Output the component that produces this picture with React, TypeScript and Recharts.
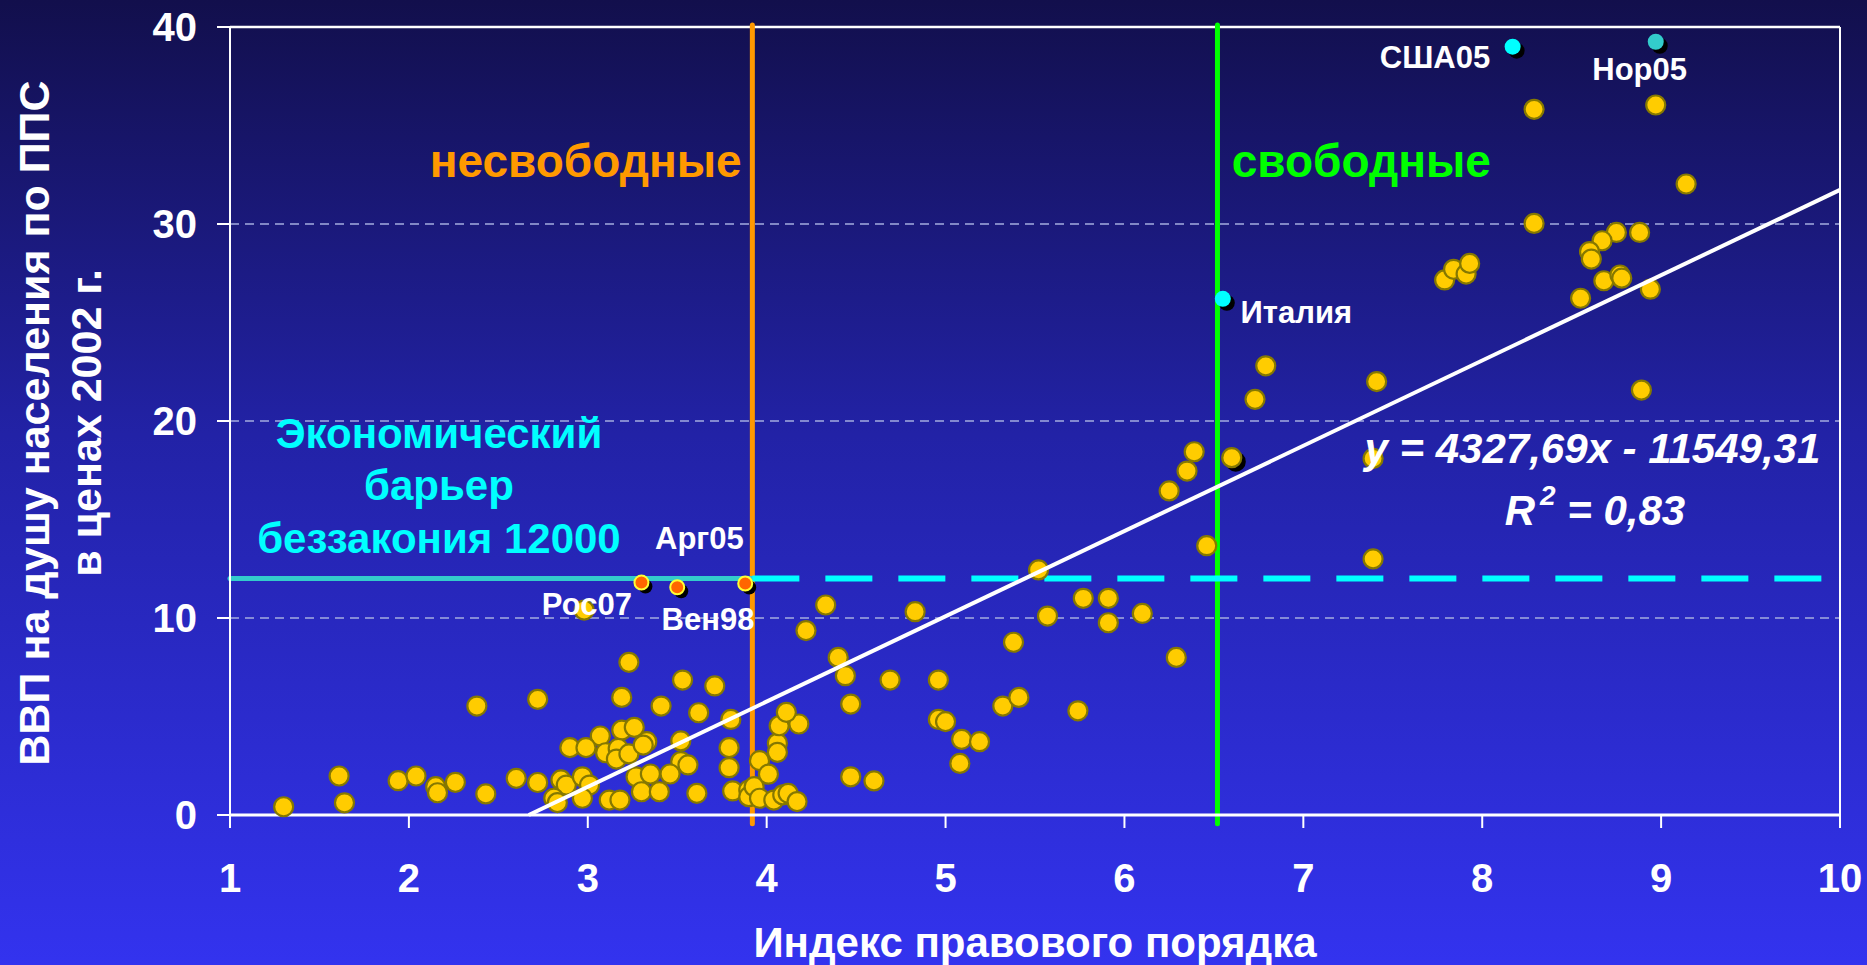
import React from 'react';
import {
  ScatterChart, Scatter, XAxis, YAxis, CartesianGrid,
  ReferenceLine, ReferenceDot
} from 'recharts';

// rule-of-law index (x) vs GDP per capita PPP, thousand $ 2002 (y)
const xTicks = [1, 2, 3, 4, 5, 6, 7, 8, 9, 10];
const yTicks = [0, 10, 20, 30, 40];

const countries = [
  { x: 1.30, y: 0.42 }, { x: 1.61, y: 1.98 }, { x: 1.64, y: 0.62 }, { x: 1.94, y: 1.74 },
  { x: 2.04, y: 1.98 }, { x: 2.15, y: 1.44 }, { x: 2.16, y: 1.13 }, { x: 2.26, y: 1.66 },
  { x: 2.38, y: 5.53 }, { x: 2.43, y: 1.07 }, { x: 2.60, y: 1.86 }, { x: 2.72, y: 5.87 },
  { x: 2.72, y: 1.65 }, { x: 2.85, y: 1.78 }, { x: 2.88, y: 1.52 }, { x: 2.97, y: 1.94 },
  { x: 3.01, y: 1.52 }, { x: 2.81, y: 0.85 }, { x: 2.83, y: 0.63 }, { x: 2.97, y: 0.85 },
  { x: 3.12, y: 0.76 }, { x: 3.18, y: 0.76 }, { x: 2.98, y: 10.4 }, { x: 3.23, y: 7.75 },
  { x: 3.19, y: 5.97 }, { x: 3.53, y: 6.85 }, { x: 3.71, y: 6.55 }, { x: 3.41, y: 5.53 },
  { x: 3.62, y: 5.19 }, { x: 3.80, y: 4.85 }, { x: 3.19, y: 4.31 }, { x: 3.26, y: 4.45 },
  { x: 3.07, y: 4.01 }, { x: 2.90, y: 3.42 }, { x: 2.99, y: 3.42 }, { x: 3.10, y: 3.16 },
  { x: 3.17, y: 3.38 }, { x: 3.16, y: 2.84 }, { x: 3.23, y: 3.10 }, { x: 3.33, y: 3.72 },
  { x: 3.31, y: 3.55 }, { x: 3.52, y: 3.76 }, { x: 3.52, y: 2.71 }, { x: 3.56, y: 2.54 },
  { x: 3.79, y: 3.42 }, { x: 3.79, y: 2.40 }, { x: 3.96, y: 2.76 }, { x: 3.27, y: 1.94 },
  { x: 3.35, y: 2.08 }, { x: 3.30, y: 1.18 }, { x: 3.40, y: 1.18 }, { x: 3.46, y: 2.08 },
  { x: 3.61, y: 1.10 }, { x: 3.81, y: 1.22 }, { x: 3.90, y: 1.27 }, { x: 3.90, y: 0.93 },
  { x: 3.93, y: 1.44 }, { x: 3.96, y: 0.85 }, { x: 4.04, y: 0.76 }, { x: 4.09, y: 1.02 },
  { x: 4.12, y: 1.10 }, { x: 4.17, y: 0.68 }, { x: 4.01, y: 2.07 }, { x: 4.06, y: 3.64 },
  { x: 4.06, y: 3.18 }, { x: 4.07, y: 4.53 }, { x: 4.18, y: 4.62 }, { x: 4.11, y: 5.21 },
  { x: 4.22, y: 9.36 }, { x: 4.33, y: 10.66 }, { x: 4.83, y: 10.32 }, { x: 4.40, y: 8.0 },
  { x: 4.44, y: 7.07 }, { x: 4.69, y: 6.85 }, { x: 4.96, y: 6.85 }, { x: 4.47, y: 5.63 },
  { x: 4.96, y: 4.85 }, { x: 5.00, y: 4.74 }, { x: 5.09, y: 3.84 }, { x: 5.19, y: 3.72 },
  { x: 5.08, y: 2.62 }, { x: 5.32, y: 5.53 }, { x: 5.41, y: 5.97 }, { x: 5.38, y: 8.77 },
  { x: 5.57, y: 10.10 }, { x: 5.52, y: 12.44 }, { x: 5.77, y: 11.0 }, { x: 5.74, y: 5.29 },
  { x: 4.47, y: 1.94 }, { x: 4.60, y: 1.73 }, { x: 5.91, y: 11.0 }, { x: 5.91, y: 9.76 },
  { x: 6.10, y: 10.23 }, { x: 6.29, y: 8.0 }, { x: 6.46, y: 13.67 }, { x: 6.25, y: 16.45 },
  { x: 6.35, y: 17.46 }, { x: 6.39, y: 18.44 }, { x: 6.73, y: 21.1 }, { x: 6.79, y: 22.8 },
  { x: 7.41, y: 22.0 }, { x: 7.39, y: 18.1 }, { x: 7.39, y: 13.0 }, { x: 7.79, y: 27.16 },
  { x: 7.84, y: 27.7 }, { x: 7.91, y: 27.46 }, { x: 7.93, y: 28.0 }, { x: 8.29, y: 35.82 },
  { x: 8.97, y: 36.04 }, { x: 9.14, y: 32.03 }, { x: 8.29, y: 30.03 }, { x: 8.75, y: 29.57 },
  { x: 8.88, y: 29.57 }, { x: 8.67, y: 29.15 }, { x: 8.60, y: 28.6 }, { x: 8.61, y: 28.22 },
  { x: 8.68, y: 27.12 }, { x: 8.77, y: 27.41 }, { x: 8.78, y: 27.25 }, { x: 8.94, y: 26.69 },
  { x: 8.55, y: 26.23 }, { x: 8.89, y: 21.57 },
];

const shadowedCountry = [{ x: 6.60, y: 18.14 }];
const usa05 = [{ x: 8.17, y: 39.0 }];
const nor05 = [{ x: 8.97, y: 39.25 }];
const italy = [{ x: 6.55, y: 26.2 }];
const lawless = [{ x: 3.30, y: 11.8 }, { x: 3.50, y: 11.56 }, { x: 3.88, y: 11.75 }];

// y = 4327,69x - 11549,31 (in thousands), drawn between its ends on the plot
const trendLine = [{ x: 2.67, y: 0 }, { x: 10, y: 31.73 }];

const barrierLevel = 12;
const unfreeBorder = 3.92;
const freeBorder = 6.52;

const FONT = "'Liberation Sans', Arial, sans-serif";

const YellowDot = (p: any) => (
  <circle cx={p.cx} cy={p.cy} r={9.5} fill="#ffcc00" stroke="#857800" strokeWidth={2.2} />
);

const ShadowYellowDot = (p: any) => (
  <g>
    <circle cx={p.cx + 4} cy={p.cy + 4} r={10} fill="#000" />
    <circle cx={p.cx} cy={p.cy} r={9.5} fill="#ffcc00" stroke="#857800" strokeWidth={2.2} />
  </g>
);

const marker = (fill: string, stroke: string, r: number) => (p: any) => (
  <g>
    <circle cx={p.cx + 4} cy={p.cy + 4} r={r} fill="#000" />
    <circle cx={p.cx} cy={p.cy} r={r} fill={fill} stroke={stroke} strokeWidth={stroke === 'none' ? 0 : 2} />
  </g>
);

const note = (text: string, color: string, size: number, anchor = 'middle', italic = false) => (p: any) => (
  <text x={p.cx} y={p.cy} fill={color} fontSize={size} fontWeight="bold" fontFamily={FONT}
    fontStyle={italic ? 'italic' : 'normal'} textAnchor={anchor}>{text}</text>
);

const RSquared = (p: any) => (
  <text x={p.cx} y={p.cy} fill="#fff" fontSize={42} fontWeight="bold" fontStyle="italic"
    fontFamily={FONT} textAnchor="middle">
    <tspan>R</tspan>
    <tspan dx={5} dy={-20} fontSize={28}>2</tspan>
    <tspan dy={20}> = 0,83</tspan>
  </text>
);

const XTitle = () => (
  <text x={1035} y={957} fill="#fff" fontSize={42} fontWeight="bold" fontFamily={FONT} textAnchor="middle">
    Индекс правового порядка
  </text>
);

const YTitle = () => (
  <g fontFamily={FONT} fontWeight="bold" fontSize={43} fill="#fff">
    <text x={49} y={423} textAnchor="middle" transform="rotate(-90, 49, 423)">ВВП на душу населения по ППС</text>
    <text x={101} y={423} textAnchor="middle" transform="rotate(-90, 101, 423)">в ценах 2002 г.</text>
  </g>
);

const tickStyle = { fill: '#fff', fontSize: 40, fontWeight: 'bold', fontFamily: FONT };

export default function App() {
  return (
    <div style={{
      position: 'absolute', left: 0, top: 0, width: 1867, height: 965, overflow: 'hidden',
      background: 'linear-gradient(to bottom, #120f4c 0%, #2222a6 45%, #3333ef 100%)'
    }}>
      <ScatterChart width={1867} height={965} margin={{ top: 27, right: 27, bottom: 0, left: 0 }}>
        <CartesianGrid vertical={false} stroke="#a4acdf" strokeDasharray="9 6" strokeWidth={1.5} />
        <XAxis
          dataKey="x" type="number" domain={[1, 10]} ticks={xTicks} height={150}
          axisLine={{ stroke: '#fff', strokeWidth: 3 }}
          tickLine={{ stroke: '#fff', strokeWidth: 2 }}
          tickSize={13} tickMargin={36} tick={tickStyle}
          label={{ content: XTitle }}
        />
        <YAxis
          dataKey="y" type="number" domain={[0, 40]} ticks={yTicks} width={230}
          axisLine={{ stroke: '#fff', strokeWidth: 2 }}
          tickLine={{ stroke: '#fff', strokeWidth: 2 }}
          tickSize={13} tickMargin={20} tick={tickStyle}
          label={{ content: YTitle }}
        />
        <ReferenceLine y={40} stroke="#fff" strokeWidth={2.5} />
        <ReferenceLine x={10} stroke="#fff" strokeWidth={2} />

        <Scatter data={countries} shape={YellowDot} isAnimationActive={false} />

        <ReferenceLine
          segment={[{ x: unfreeBorder, y: -0.45 }, { x: unfreeBorder, y: 40.1 }]}
          stroke="#ff9900" strokeWidth={5} strokeLinecap="round" ifOverflow="visible"
        />
        <ReferenceLine
          segment={[{ x: freeBorder, y: -0.45 }, { x: freeBorder, y: 40.1 }]}
          stroke="#00ff00" strokeWidth={5} strokeLinecap="round" ifOverflow="visible"
        />
        <ReferenceLine
          segment={[{ x: 1, y: barrierLevel }, { x: unfreeBorder, y: barrierLevel }]}
          stroke="#33cccc" strokeWidth={5} strokeLinecap="round"
        />
        <ReferenceLine
          segment={[{ x: unfreeBorder, y: barrierLevel }, { x: 10, y: barrierLevel }]}
          stroke="#00ffff" strokeWidth={6} strokeDasharray="47 26"
        />

        <Scatter data={trendLine} line={{ stroke: '#fff', strokeWidth: 4 }} shape={() => <g />} isAnimationActive={false} />

        <Scatter data={shadowedCountry} shape={ShadowYellowDot} isAnimationActive={false} />
        <Scatter data={usa05} shape={marker('#00ffff', 'none', 8)} isAnimationActive={false} />
        <Scatter data={nor05} shape={marker('#33cccc', 'none', 8)} isAnimationActive={false} />
        <Scatter data={italy} shape={marker('#00ffff', 'none', 8)} isAnimationActive={false} />
        <Scatter data={lawless} shape={marker('#ff6600', '#ffff33', 7)} isAnimationActive={false} />

        <ReferenceDot x={3.86} y={32.39} shape={note('несвободные', '#ff9900', 46, 'end')} />
        <ReferenceDot x={6.60} y={32.39} shape={note('свободные', '#00ff00', 46, 'start')} />
        <ReferenceDot x={2.168} y={18.63} shape={note('Экономический', '#00ffff', 42)} />
        <ReferenceDot x={2.168} y={15.99} shape={note('барьер', '#00ffff', 42)} />
        <ReferenceDot x={2.168} y={13.30} shape={note('беззакония 12000', '#00ffff', 42)} />
        <ReferenceDot x={3.624} y={13.5} shape={note('Арг05', '#fff', 31)} />
        <ReferenceDot x={2.995} y={10.15} shape={note('Рос07', '#fff', 31)} />
        <ReferenceDot x={3.672} y={9.39} shape={note('Вен98', '#fff', 31)} />
        <ReferenceDot x={7.736} y={37.92} shape={note('США05', '#fff', 31)} />
        <ReferenceDot x={8.88} y={37.31} shape={note('Нор05', '#fff', 31)} />
        <ReferenceDot x={6.961} y={24.97} shape={note('Италия', '#fff', 31)} />
        <ReferenceDot x={8.616} y={17.87} shape={note('y = 4327,69x - 11549,31', '#fff', 42, 'middle', true)} />
        <ReferenceDot x={8.63} y={14.72} shape={RSquared} />
      </ScatterChart>
    </div>
  );
}
